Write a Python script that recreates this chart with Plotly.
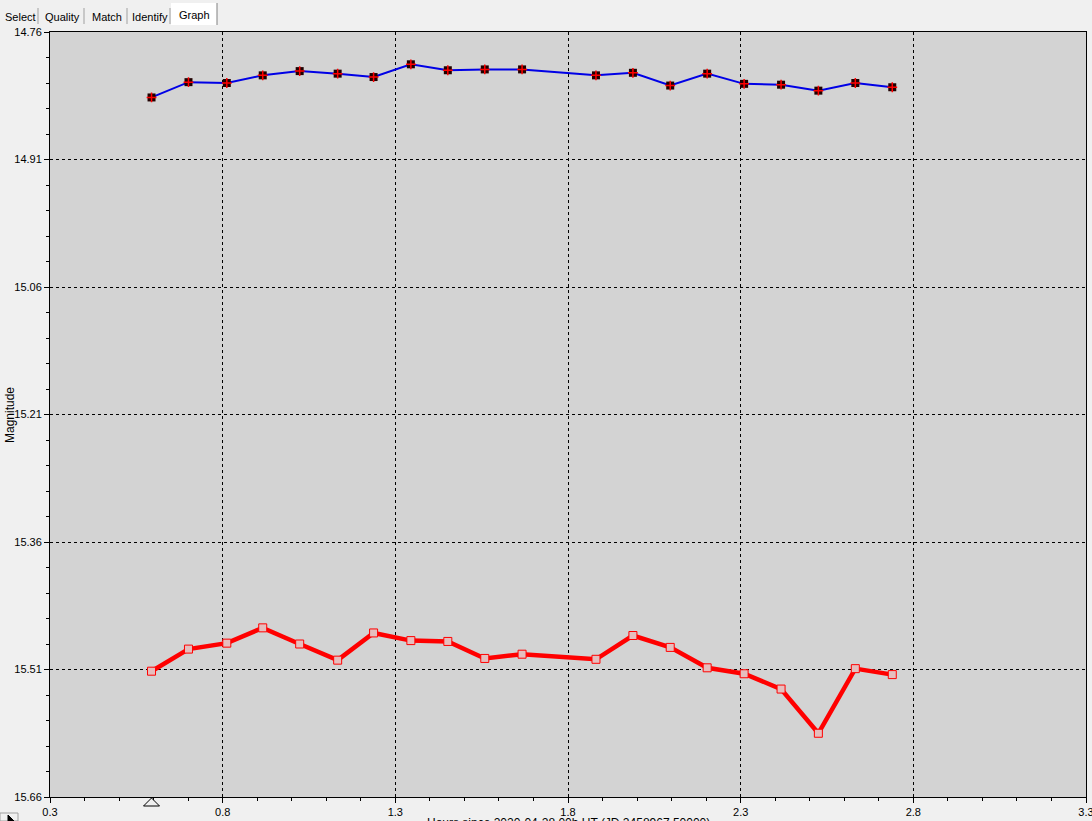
import plotly.graph_objects as go

# ---------------- data ----------------
hours = [0.594, 0.701, 0.812, 0.916, 1.023, 1.133, 1.237, 1.345, 1.452, 1.559,
         1.667, 1.881, 1.988, 2.096, 2.203, 2.310, 2.417, 2.525, 2.632, 2.739]
comp_mag = [14.837, 14.819, 14.820, 14.811, 14.806, 14.809, 14.813, 14.798, 14.805, 14.804,
            14.804, 14.811, 14.808, 14.823, 14.809, 14.821, 14.822, 14.829, 14.820, 14.825]
target_mag = [15.512, 15.486, 15.479, 15.461, 15.480, 15.499, 15.467, 15.476, 15.477, 15.497,
              15.492, 15.498, 15.470, 15.484, 15.508, 15.515, 15.533, 15.585, 15.509, 15.516]
y_ticks = [14.76, 14.91, 15.06, 15.21, 15.36, 15.51, 15.66]
x_ticks = [0.3, 0.8, 1.3, 1.8, 2.3, 2.8, 3.3]
tab_labels = ["Select", "Quality", "Match", "Identify", "Graph"]
x_title = "Hours since 2020-04-28.00h UT (JD 2458967.50000)"
y_title = "Magnitude"

W, H = 1092, 821
L, R, T, B = 50, 1086, 32, 797


def px(xp):
    return (xp - L) / (R - L)


def py(yp):
    return (B - yp) / (B - T)


FONT = "Liberation Sans, Arial, sans-serif"

fig = go.Figure()

# blue comparison series
fig.add_trace(go.Scatter(
    x=hours, y=comp_mag, mode="lines+markers",
    line=dict(color="#0000E6", width=2),
    marker=dict(symbol="square", size=8, color="#200000", line=dict(width=0)),
    hoverinfo="x+y", showlegend=False))
fig.add_trace(go.Scatter(
    x=hours, y=comp_mag, mode="markers",
    marker=dict(symbol="cross-thin", size=7, color="#FF0000", line=dict(color="#FF0000", width=1.5)),
    hoverinfo="skip", showlegend=False))

# red target series
fig.add_trace(go.Scatter(
    x=hours, y=target_mag, mode="lines+markers",
    line=dict(color="#FF0000", width=4.5),
    marker=dict(symbol="square", size=8, color="#E6BEBE", line=dict(color="#FF0000", width=1)),
    hoverinfo="x+y", showlegend=False))

axis_common = dict(
    showline=True, linecolor="black", linewidth=1, mirror=True,
    showgrid=True, gridcolor="black", gridwidth=1, griddash="3px,3px",
    ticks="outside", ticklen=5, tickwidth=1, tickcolor="black",
    tickfont=dict(family=FONT, size=11, color="black"),
    zeroline=False, automargin=False, ticklabeloverflow="allow",
)

fig.update_xaxes(
    range=[x_ticks[0], x_ticks[-1]], tickmode="array", tickvals=x_ticks,
    ticktext=[f"{v:.1f}" for v in x_ticks],
    minor=dict(dtick=0.1, tick0=0.3, ticks="outside", ticklen=3, tickcolor="black", showgrid=False),
    **axis_common)
fig.update_yaxes(
    range=[y_ticks[-1], y_ticks[0]], tickmode="array", tickvals=y_ticks,
    ticktext=[f"{v:.2f}" for v in y_ticks],
    minor=dict(dtick=0.03, tick0=14.76, ticks="outside", ticklen=3, tickcolor="black", showgrid=False),
    **axis_common)

annotations = []
shapes = []

# y-axis title
annotations.append(dict(text=y_title, xref="paper", yref="paper", x=px(10), y=py(415),
                        showarrow=False, textangle=-90, xanchor="center", yanchor="middle",
                        font=dict(family=FONT, size=12, color="black")))
# x-axis title (partly cut by window bottom, as in reference)
annotations.append(dict(text=x_title, xref="paper", yref="paper", x=px(568), y=py(823),
                        showarrow=False, xanchor="center", yanchor="middle",
                        font=dict(family=FONT, size=12, color="black")))

# tabs
tab_edges = [2, 39, 85, 128, 171, 217]
for i, lab in enumerate(tab_labels):
    x0, x1 = tab_edges[i], tab_edges[i + 1]
    sel = (i == len(tab_labels) - 1)
    if sel:
        shapes.append(dict(type="rect", xref="paper", yref="paper",
                           x0=px(x0), x1=px(x1), y0=py(25), y1=py(3),
                           fillcolor="#FFFFFF", line=dict(width=0), layer="below"))
        shapes.append(dict(type="line", xref="paper", yref="paper",
                           x0=px(x1), x1=px(x1), y0=py(25), y1=py(3),
                           line=dict(color="#808080", width=1)))
    else:
        shapes.append(dict(type="line", xref="paper", yref="paper",
                           x0=px(x1 - 1), x1=px(x1 - 1), y0=py(24), y1=py(8),
                           line=dict(color="#A0A0A0", width=1)))
    annotations.append(dict(text=lab, xref="paper", yref="paper",
                            x=px((x0 + x1) / 2), y=py(15 if sel else 17),
                            showarrow=False, xanchor="center", yanchor="middle",
                            font=dict(family=FONT, size=11, color="black")))

# cursor triangle under first data point
x_first = hours[0]
hw = 8 / (R - L) * (x_ticks[-1] - x_ticks[0])
shapes.append(dict(type="path", xref="x", yref="paper",
                   path=f"M {x_first},{py(798)} L {x_first - hw},{py(806)} L {x_first + hw},{py(806)} Z",
                   fillcolor="#F0F0F0", line=dict(color="black", width=1)))

# small bottom-left icon
shapes.append(dict(type="rect", xref="paper", yref="paper", x0=px(0), x1=px(18),
                   y0=py(821), y1=py(813), fillcolor="#F0F0F0", line=dict(color="#A0A0A0", width=1)))
shapes.append(dict(type="path", xref="paper", yref="paper",
                   path=f"M {px(8)},{py(815)} L {px(14)},{py(821)} L {px(8)},{py(821)} Z",
                   fillcolor="black", line=dict(color="black", width=1)))

fig.update_layout(
    width=W, height=H, autosize=False,
    margin=dict(l=L, r=W - R, t=T, b=H - B, pad=0, autoexpand=False),
    paper_bgcolor="#F0F0F0", plot_bgcolor="#D3D3D3",
    font=dict(family=FONT, size=11, color="black"),
    annotations=annotations, shapes=shapes,
    showlegend=False,
)

fig.write_html("out.html", include_plotlyjs=True, config={"displayModeBar": False},
               post_script="document.body.style.margin='0';document.body.style.overflow='hidden';")
